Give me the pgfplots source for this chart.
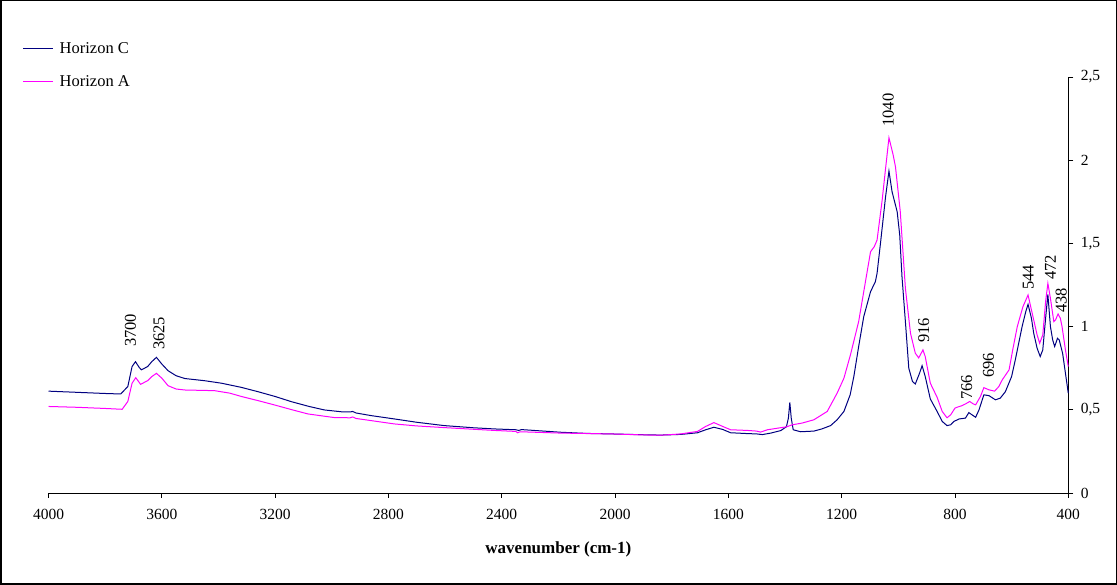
\documentclass[border=0pt]{standalone}
\usepackage{fontspec}
\setmainfont{Liberation Serif}
\usepackage{pgfplots}
\pgfplotsset{compat=1.18}
\definecolor{navyc}{RGB}{0,0,128}
\definecolor{magc}{RGB}{255,0,255}
\begin{document}
\begin{tikzpicture}[x=1pt,y=1pt]
\useasboundingbox (0,0) rectangle (1117,585);
\draw[line width=1.5pt] (0.75,0.75) rectangle (1116.25,584.25);
\begin{axis}[
  at={(558.4pt,300pt)}, anchor=center,
  scale only axis, width=1019.8pt, height=416pt,
  xmin=400, xmax=4000, ymin=0, ymax=2.5, x dir=reverse,
  xtick={400,800,...,4000}, ytick={0,0.5,1,1.5,2,2.5},
  axis x line*=bottom, axis y line*=right,
  axis line style={-, line width=0.8pt, black},
  tick align=outside, major tick length=5pt,
  tick style={line width=0.8pt, black},
  /pgf/number format/use comma,
  /pgf/number format/assume math mode=true,
  /pgf/number format/1000 sep={},
  ticklabel style={font=\fontsize{15.5}{18}\selectfont},
  xticklabel style={yshift=-8pt},
  yticklabel style={xshift=4pt},
  xlabel={wavenumber (cm-1)},
  xlabel style={font=\fontsize{17}{20}\selectfont\bfseries, at={(axis description cs:0.5,0)}, anchor=center, yshift=-56pt},
  legend style={at={(axis description cs:0,1)}, anchor=north west, xshift=-26pt, yshift=36pt, draw=none, fill=none, font=\fontsize{16.5}{19}\selectfont, row sep=19pt, inner sep=0pt, nodes={inner sep=1pt}, /tikz/every odd column/.append style={column sep=5pt}},
  legend cell align=left,
  legend image code/.code={\draw[#1] (0pt,0pt) -- (30pt,0pt);},
  clip=false,
]
\addplot[navyc, line width=1pt] coordinates {
(4000,0.612) (3900,0.605) (3800,0.598) (3745,0.595) (3720,0.64) (3705,0.76) (3693,0.789) (3680,0.755) (3672,0.740) (3650,0.760) (3635,0.790) (3619,0.815) (3600,0.775) (3578,0.735) (3550,0.705) (3519,0.688) (3450,0.675) (3390,0.660) (3320,0.635) (3261,0.609) (3200,0.580) (3143,0.549) (3080,0.520) (3026,0.499) (2960,0.487) (2935,0.487) (2926,0.490) (2915,0.481) (2861,0.465) (2779,0.445) (2700,0.425) (2603,0.405) (2500,0.392) (2426,0.385) (2350,0.380) (2340,0.376) (2330,0.381) (2191,0.365) (2100,0.358) (2015,0.355) (1900,0.350) (1839,0.348) (1768,0.352) (1709,0.362) (1680,0.380) (1651,0.395) (1620,0.382) (1592,0.362) (1533,0.357) (1500,0.355) (1480,0.351) (1450,0.360) (1415,0.375) (1395,0.398) (1388,0.45) (1383,0.545) (1378,0.45) (1371,0.380) (1345,0.368) (1298,0.372) (1270,0.385) (1239,0.405) (1216,0.440) (1192,0.490) (1170,0.59) (1157,0.70) (1140,0.88) (1122,1.06) (1098,1.21) (1081,1.27) (1075,1.32) (1063,1.50) (1045,1.78) (1033,1.935) (1022,1.81) (1004,1.69) (995,1.55) (987,1.30) (975,1.03) (963,0.75) (950,0.67) (940,0.655) (925,0.72) (916,0.765) (905,0.70) (887,0.565) (863,0.49) (845,0.43) (828,0.405) (815,0.41) (804,0.43) (785,0.445) (763,0.45) (751,0.483) (740,0.47) (727,0.455) (715,0.50) (698,0.59) (680,0.585) (657,0.56) (640,0.57) (622,0.609) (600,0.70) (587,0.80) (563,1.00) (550,1.09) (542,1.134) (530,1.05) (522,0.96) (510,0.87) (499,0.82) (490,0.86) (480,1.05) (472,1.194) (463,1.00) (455,0.92) (448,0.88) (438,0.93) (432,0.92) (420,0.84) (410,0.72) (400,0.60)
};
\addlegendentry{Horizon C}
\addplot[magc, line width=1pt] coordinates {
(4000,0.520) (3900,0.515) (3800,0.508) (3740,0.503) (3720,0.55) (3705,0.66) (3692,0.693) (3680,0.665) (3675,0.653) (3650,0.675) (3635,0.700) (3619,0.719) (3600,0.690) (3578,0.645) (3550,0.625) (3519,0.619) (3414,0.615) (3360,0.600) (3319,0.580) (3260,0.555) (3202,0.529) (3140,0.500) (3084,0.475) (2990,0.453) (2935,0.452) (2926,0.457) (2915,0.448) (2861,0.435) (2779,0.415) (2700,0.403) (2603,0.393) (2500,0.383) (2426,0.376) (2350,0.370) (2344,0.362) (2335,0.368) (2191,0.360) (2015,0.355) (1900,0.349) (1839,0.347) (1768,0.355) (1709,0.370) (1680,0.400) (1651,0.423) (1620,0.400) (1592,0.380) (1533,0.376) (1500,0.372) (1486,0.366) (1462,0.380) (1394,0.398) (1374,0.410) (1340,0.420) (1298,0.440) (1251,0.490) (1216,0.600) (1192,0.690) (1169,0.83) (1140,1.03) (1122,1.21) (1098,1.45) (1085,1.48) (1075,1.52) (1057,1.76) (1045,1.95) (1033,2.135) (1018,2.03) (1010,1.96) (993,1.69) (975,1.23) (957,0.96) (940,0.84) (928,0.812) (913,0.860) (905,0.82) (887,0.66) (863,0.575) (845,0.49) (828,0.452) (815,0.47) (800,0.51) (793,0.515) (775,0.525) (763,0.535) (748,0.550) (735,0.535) (727,0.530) (710,0.58) (698,0.633) (680,0.62) (660,0.612) (645,0.64) (633,0.68) (609,0.74) (595,0.87) (580,1.00) (560,1.12) (542,1.19) (530,1.10) (522,1.04) (510,0.95) (501,0.90) (490,0.95) (480,1.15) (472,1.26) (463,1.17) (451,1.03) (445,1.04) (436,1.076) (428,1.05) (422,1.00) (410,0.86) (400,0.76)
};
\addlegendentry{Horizon A}
\begin{scope}[every node/.style={rotate=90, anchor=west, inner sep=0pt, font=\fontsize{16.5}{19}\selectfont}]
\node at (axis cs:3711,0.877) {3700};
\node at (axis cs:3610,0.859) {3625};
\node at (axis cs:1036,2.20) {1040};
\node at (axis cs:910,0.901) {916};
\node at (axis cs:758,0.559) {766};
\node at (axis cs:682,0.691) {696};
\node at (axis cs:541,1.22) {544};
\node at (axis cs:463,1.28) {472};
\node at (axis cs:425,1.082) {438};
\end{scope}
\end{axis}
\end{tikzpicture}
\end{document}
